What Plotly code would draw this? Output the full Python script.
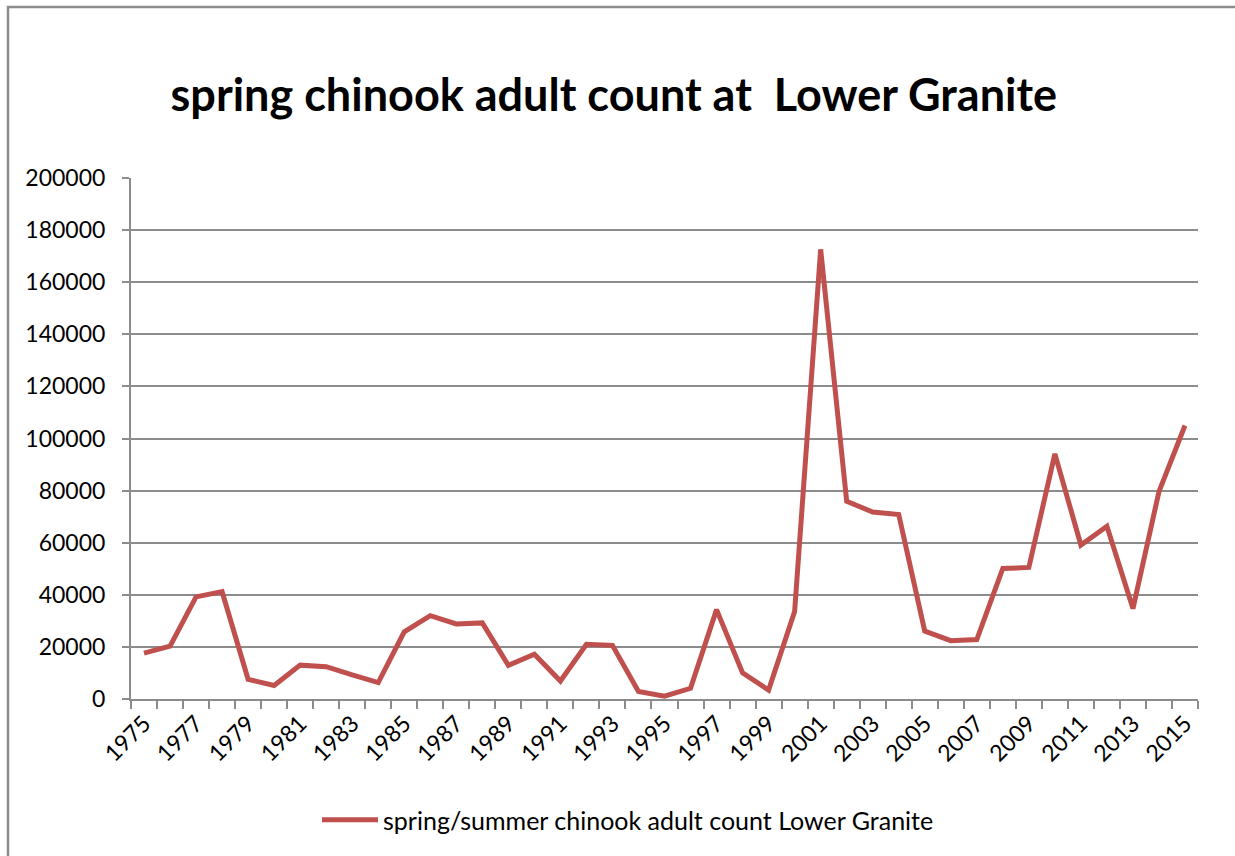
import plotly.graph_objects as go

years = list(range(1975, 2016))
counts = [17600, 20300, 39200, 41200, 7550, 5200, 13000, 12400, 9300, 6300,
          25800, 32000, 28800, 29200, 12900, 17200, 6900, 21000, 20600, 2900,
          1100, 4100, 34300, 10000, 3400, 33600, 172600, 75900, 71800, 70800,
          26100, 22400, 22800, 50100, 50500, 94100, 59100, 66300, 34700, 79600,
          105000]
label_years = years[::2]
series_name = "spring/summer chinook adult count Lower Granite"
title_text = "spring chinook adult count at\u00a0\u00a0Lower Granite"

FONT = "Lato"
GRID = "#8c8c8c"

L, R, T, B = 131, 1198, 178, 699
PW, PH = R - L, B - T

fig = go.Figure()
fig.add_trace(go.Scatter(
    x=years, y=counts, mode="lines", name=series_name,
    line=dict(color="#C0504D", width=5),
))

boundaries = [y - 0.5 for y in years] + [years[-1] + 0.5]

bx0 = (8 - L) / PW
bx1 = (1300 - L) / PW
by0 = (B - 950) / PH
by1 = (B - 7) / PH

fig.update_layout(
    width=1235, height=856,
    margin=dict(l=L, r=1235 - R, t=T, b=856 - B, autoexpand=False),
    paper_bgcolor="white", plot_bgcolor="white",
    font=dict(family=FONT, size=22, color="black"),
    title=dict(text="<b>" + title_text + "</b>", x=0.497, xanchor="center",
               y=1 - 95 / 856, yanchor="middle",
               font=dict(family=FONT, size=45, color="black")),
    showlegend=True,
    legend=dict(orientation="h", x=(319 - L - 2) / PW, xanchor="left",
                y=-(820 - B) / PH, yanchor="middle",
                font=dict(family=FONT, size=25, color="black"), itemwidth=56,
                bgcolor="rgba(0,0,0,0)"),
    xaxis=dict(
        range=[years[0] - 0.5, years[-1] + 0.5], automargin=False,
        tickmode="array", tickvals=label_years, ticktext=[str(v) for v in label_years],
        tickangle=-45, ticks="", showgrid=False, zeroline=False,
        showline=True, linecolor=GRID, linewidth=2,
        tickfont=dict(family=FONT, size=23, color="black"),
        minor=dict(tickmode="array", tickvals=boundaries, ticks="outside",
                   ticklen=8, tickwidth=2, tickcolor=GRID, showgrid=False),
    ),
    yaxis=dict(
        range=[0, 200000], tickmode="linear", tick0=0, dtick=20000, automargin=False,
        showgrid=True, gridcolor=GRID, gridwidth=2, zeroline=False,
        showline=True, linecolor=GRID, linewidth=2,
        ticks="outside", ticklen=7, tickwidth=2, tickcolor=GRID,
        tickformat="d", ticklabelstandoff=12,
        tickfont=dict(family=FONT, size=23, color="black"),
    ),
    shapes=[dict(type="path", xref="paper", yref="paper",
                 path=f"M {bx0},{by0} L {bx0},{by1} L {bx1},{by1}",
                 line=dict(color=GRID, width=2.5), layer="below")],
)

fig.write_html("out.html")
